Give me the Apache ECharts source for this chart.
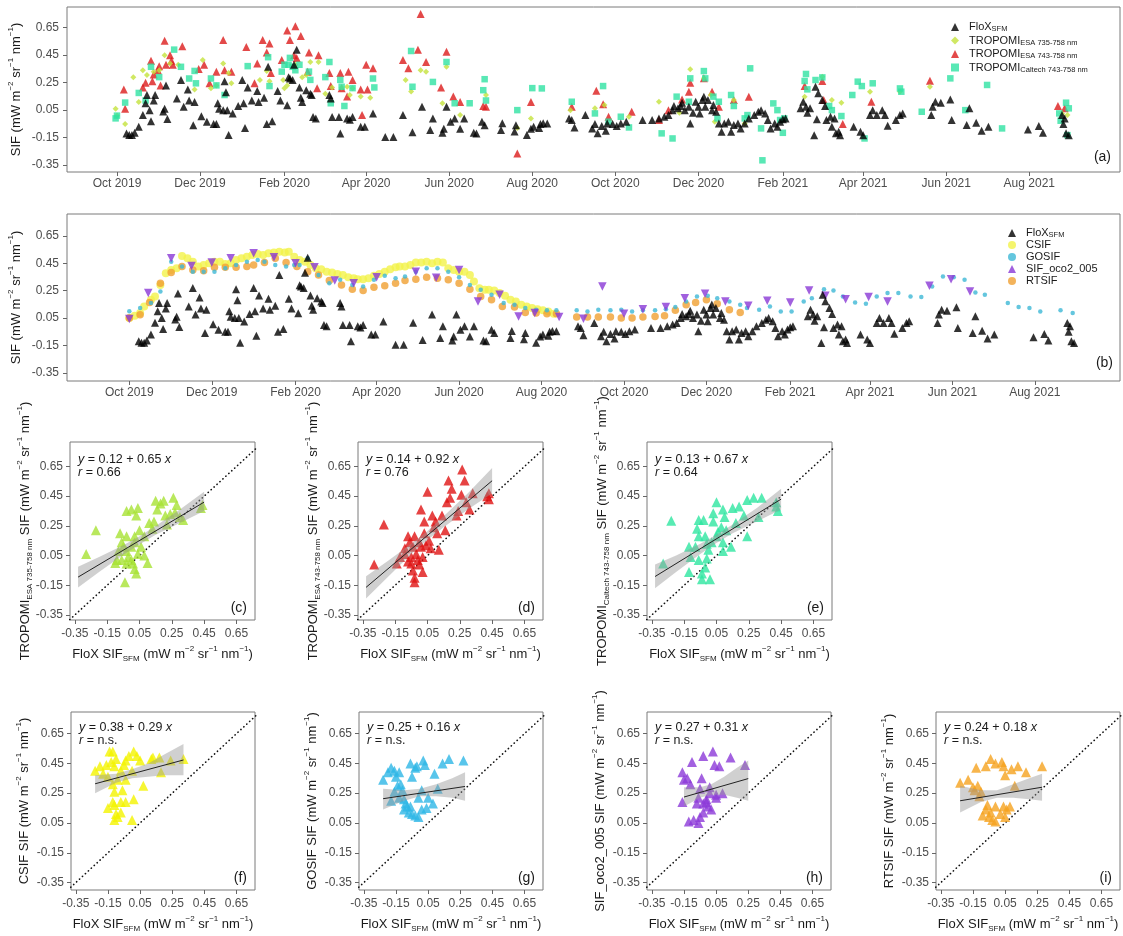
<!DOCTYPE html>
<html><head><meta charset="utf-8">
<script src="https://cdn.jsdelivr.net/npm/echarts@6/dist/echarts.min.js"></script>
<style>html,body{margin:0;padding:0;background:#fff}#c{width:1123px;height:936px}</style>
</head><body><div id="c"></div><script>
const FONT = 'Liberation Sans, Arial, sans-serif';

// ---------- time-series data: [days since 2019-10-01, SIF] ----------
const monthTicks = ['2019-10-01','2019-12-01','2020-02-01','2020-04-01','2020-06-01','2020-08-01',
  '2020-10-01','2020-12-01','2021-02-01','2021-04-01','2021-06-01','2021-08-01'];
const sifTicks = [-0.35, -0.15, 0.05, 0.25, 0.45, 0.65];

const flox = [[7,-0.12],[9,-0.13],[11,-0.13],[13,-0.115],[16,-0.07],[19,0.015],[21,0.10],[22,0.16],[24,0.05],[25,-0.03],[27,0.12],[28,0.16],[34,0.04],[35,0.06],[37,-0.015],[36,0.23],[44,0.135],[47,0.27],[49,0.075],[52,0.20],[53,0.12],[56,-0.06],[57,0.11],[62,0.005],[66,-0.035],[71,-0.05],[73,-0.05],[74,0.10],[75,0.06],[78,0.05],[79,0.26],[80,0.18],[81,0.05],[82,-0.13],[85,0.025],[89,0.08],[92,0.27],[93,0.10],[94,-0.08],[96,0.215],[99,0.12],[103,0.19],[104,0.11],[108,0.14],[110,-0.05],[111,0.365],[114,-0.03],[118,0.19],[120,0.12],[125,0.085],[126,0.29],[127,0.28],[129,0.27],[130,0.38],[132,0.49],[134,0.215],[135,0.14],[136,0.11],[139,0.195],[142,0.17],[143,0.16],[144,0.0],[146,-0.01],[156,0.16],[157,0.135],[158,0.0],[163,0.0],[164,-0.12],[169,-0.01],[171,-0.02],[173,0.0],[179,-0.07],[182,-0.07],[188,0.025],[197,-0.145],[203,-0.145],[210,0.015],[217,-0.11],[224,0.075],[230,-0.095],[232,-0.01],[239,-0.115],[240,-0.085],[242,0.075],[245,-0.035],[248,-0.01],[252,-0.085],[255,-0.01],[262,-0.115],[264,-0.12],[268,-0.035],[270,-0.06],[282,-0.095],[283,-0.045],[292,-0.105],[293,-0.06],[301,-0.13],[304,-0.085],[306,-0.07],[310,-0.08],[311,-0.05],[313,-0.045],
  [316,-0.047],[332,-0.01],[334,-0.022],[336,-0.076],[344,0.014],[349,-0.083],[351,-0.051],[353,-0.119],[356,-0.066],[359,-0.10],[360,-0.047],[364,-0.051],[367,-0.066],[370,-0.047],[374,-0.034],[386,-0.022],[393,-0.022],[398,-0.01],[402,0.002],[405,0.014],[408,0.05],[409,0.08],[412,0.063],[414,0.08],[415,0.104],[417,0.05],[420,0.075],[421,-0.047],[423,0.031],[425,0.111],[427,0.075],[428,0.026],[430,0.123],[431,0.148],[432,0.075],[434,0.123],[437,0.05],[438,0.087],[440,0.038],[442,-0.047],[444,-0.107],[446,-0.047],[449,-0.034],[451,-0.107],[453,-0.059],[456,-0.047],[458,-0.083],[461,-0.047],[464,-0.01],[468,0.014],[471,0.038],[473,0.05],[476,0.026],[478,-0.022],[480,-0.083],[483,-0.047],[485,-0.071],[487,-0.034],[489,-0.017],[491,-0.01],[502,0.063],[504,0.111],[506,0.075],[507,0.031],[509,0.063],[512,-0.132],[514,-0.017],[513,0.22],[515,0.172],[518,0.123],[520,0.08],[521,-0.022],[524,0.002],[525,-0.071],[527,-0.01],[528,-0.119],[530,-0.107],[531,-0.132],[541,-0.071],[546,-0.107],[548,-0.132],[553,0.014],[555,0.05],[558,0.014],[562,0.05],[564,0.014],[566,-0.064],[572,-0.022],[575,0.014],[577,0.026],[598,0.014],[599,0.075],[601,0.111],[605,0.104],[612,0.128],[613,-0.022],[624,-0.059],[626,0.063],[631,-0.042],[635,-0.10],[640,-0.071],[669,-0.09],[677,-0.066],[680,-0.115],[694,0.014],[696,-0.01],[695,-0.051],[697,-0.119],[699,-0.132]];

const tropEsa735 = [[-1,0.06],[0,0.01],[6,-0.05],[12,0.29],[16,0.11],[19,0.34],[22,0.305],[27,0.33],[31,0.34],[35,0.45],[39,0.39],[45,0.38],[57,0.20],[63,0.415],[69,0.21],[73,0.23],[78,0.39],[82,0.32],[84,0.245],[105,0.27],[110,0.335],[112,0.26],[122,0.27],[123,0.21],[125,0.23],[127,0.27],[131,0.38],[136,0.29],[139,0.305],[142,0.40],[148,0.40],[153,0.17],[158,0.215],[165,0.215],[169,0.22],[171,0.16],[173,0.21],[179,0.15],[186,0.14],[212,0.27],[216,0.185],[223,0.34],[227,0.33],[239,0.10],[242,0.365],[252,0.015],[271,0.16],[294,-0.08],[304,-0.01],
  [333,0.05],[351,0.063],[358,0.087],[376,0.002],[398,0.111],[413,0.031],[421,0.347],[431,0.281],[436,0.16],[439,-0.034],[453,0.123],[461,-0.047],[505,0.148],[518,0.293],[525,0.123],[532,0.104],[553,0.184],[575,0.184],[597,0.22],[694,0.026],[698,0.014]];

const tropEsa743 = [[5,0.20],[6,0.06],[19,0.215],[21,0.25],[25,0.41],[26,0.26],[27,0.31],[30,0.34],[31,0.37],[32,0.23],[35,0.555],[36,0.38],[39,0.45],[40,0.41],[41,0.38],[48,0.515],[60,0.35],[64,0.38],[68,0.245],[73,0.33],[78,0.56],[79,0.34],[84,0.33],[95,0.51],[101,0.245],[103,0.39],[107,0.56],[110,0.47],[112,0.535],[113,0.32],[121,0.415],[125,0.63],[131,0.66],[127,0.56],[130,0.45],[132,0.43],[135,0.59],[140,0.33],[141,0.47],[147,0.21],[148,0.45],[156,0.32],[157,0.225],[164,0.32],[165,0.21],[169,0.15],[170,0.33],[173,0.27],[179,0.20],[180,0.015],[183,0.38],[184,0.20],[188,0.355],[210,0.415],[214,0.355],[221,0.49],[223,0.75],[227,0.40],[238,0.215],[242,0.475],[247,0.15],[252,0.11],[269,0.08],[271,0.075],[294,-0.265],[304,0.11],
  [334,0.075],[352,0.191],[357,0.092],[361,0.002],[378,0.038],[398,-0.022],[405,0.05],[415,0.128],[420,0.184],[421,0.25],[431,0.281],[437,0.184],[442,0.075],[453,0.123],[464,0.148],[505,0.225],[518,0.262],[519,0.123],[533,-0.051],[554,0.111],[597,0.264],[691,0.08],[696,0.063]];

const tropCaltech = [[-1,-0.01],[0,0.01],[6,0.105],[16,0.175],[21,0.12],[25,0.365],[31,0.29],[42,0.49],[47,0.365],[53,0.28],[57,0.335],[58,0.245],[69,0.28],[73,0.23],[79,0.16],[96,0.37],[111,0.435],[112,0.225],[121,0.33],[123,0.38],[126,0.38],[127,0.43],[129,0.365],[131,0.34],[134,0.38],[141,0.33],[142,0.27],[156,0.40],[153,0.29],[157,0.10],[164,0.27],[165,0.22],[167,0.08],[173,0.21],[188,0.28],[189,0.215],[216,0.48],[217,0.22],[232,0.255],[242,0.40],[248,0.10],[259,0.10],[269,0.195],[270,0.275],[271,0.12],[294,0.05],[305,0.21],
  [312,0.208],[334,0.111],[351,0.026],[357,0.225],[361,-0.034],[370,0.002],[376,-0.076],[400,-0.119],[408,-0.156],[411,0.148],[420,0.111],[421,0.281],[431,0.334],[432,0.281],[438,0.148],[442,0.111],[441,-0.01],[451,0.16],[453,0.08],[461,-0.01],[463,0.014],[465,0.354],[473,-0.083],[474,-0.315],[482,0.099],[485,0.05],[487,-0.022],[489,-0.115],[490,-0.01],[505,0.262],[506,0.313],[507,0.201],[513,0.269],[518,0.288],[523,0.08],[525,0.05],[532,0.007],[540,0.16],[544,0.257],[547,0.225],[549,-0.156],[555,0.245],[575,0.208],[576,0.184],[591,0.038],[612,0.281],[623,0.05],[639,0.233],[650,-0.083],[692,0.026],[693,-0.027],[697,0.104],[698,-0.132],[699,0.063]];

const csif = [[0,0.05],[4,0.066],[8,0.086],[11,0.135],[16,0.183],[19,0.208],[23,0.292],[27,0.377],[31,0.401],[35,0.414],[39,0.503],[43,0.486],[47,0.462],[51,0.426],[55,0.438],[59,0.45],[63,0.462],[67,0.462],[71,0.445],[75,0.45],[79,0.474],[83,0.486],[87,0.498],[91,0.511],[95,0.518],[99,0.511],[103,0.523],[107,0.528],[111,0.535],[115,0.528],[118,0.535],[122,0.498],[126,0.474],[130,0.462],[134,0.438],[138,0.414],[142,0.406],[146,0.389],[150,0.382],[154,0.372],[158,0.365],[162,0.348],[166,0.341],[169,0.334],[173,0.334],[177,0.341],[181,0.358],[185,0.372],[189,0.389],[193,0.406],[197,0.421],[200,0.426],[204,0.426],[208,0.438],[212,0.455],[216,0.455],[220,0.462],[224,0.45],[228,0.462],[232,0.455],[236,0.414],[240,0.401],[244,0.389],[248,0.389],[252,0.365],[255,0.317],[259,0.268],[263,0.256],[266,0.256],[270,0.251],[274,0.232],[278,0.212],[282,0.183],[286,0.171],[290,0.147],[294,0.135],[298,0.123],[302,0.115],[306,0.106],[310,0.098],[314,0.081]];

const gosif = [[0,0.10],[8,0.123],[16,0.159],[23,0.244],[31,0.462],[39,0.426],[47,0.389],[55,0.389],[63,0.389],[71,0.414],[79,0.438],[87,0.462],[95,0.474],[100,0.462],[108,0.438],[116,0.426],[122,0.438],[126,0.438],[132,0.486],[140,0.365],[148,0.305],[156,0.329],[165,0.292],[173,0.28],[181,0.329],[189,0.358],[197,0.341],[204,0.353],[212,0.389],[220,0.414],[228,0.414],[236,0.389],[244,0.348],[252,0.292],[260,0.256],[268,0.22],[277,0.159],[285,0.147],[293,0.123],[301,0.111],[309,0.106],
  [316,0.106],[331,0.106],[339,0.098],[347,0.111],[356,0.106],[364,0.111],[372,0.098],[380,0.106],[389,0.106],[397,0.115],[404,0.13],[412,0.171],[420,0.208],[428,0.212],[435,0.195],[444,0.171],[452,0.147],[457,0.123],[466,0.111],[474,0.135],[482,0.098],[490,0.098],[499,0.171],[505,0.195],[514,0.261],[521,0.251],[528,0.208],[537,0.164],[545,0.154],[553,0.208],[561,0.232],[569,0.232],[578,0.208],[586,0.203],[594,0.28],[602,0.353],[610,0.348],[618,0.329],[626,0.236],[633,0.22],[650,0.159],[658,0.13],[666,0.123],[674,0.098],[689,0.106],[698,0.086]];

const oco2 = [[0,0.043],[14,0.232],[31,0.486],[46,0.43],[61,0.455],[75,0.486],[92,0.523],[107,0.494],[123,0.45],[137,0.421],[152,0.324],[166,0.305],[183,0.348],[212,0.389],[227,0.345],[244,0.401],[258,0.171],[274,0.22],[288,0.062],[300,0.086],[318,0.057],[336,0.045],[350,0.28],[366,0.081],[380,0.115],[397,0.13],[411,0.195],[426,0.227],[441,0.171],[458,0.139],[472,0.176],[489,0.164],[503,0.251],[515,0.212],[530,0.188],[547,0.203],[561,0.171],[592,0.285],[608,0.333],[622,0.244]];

const rtsif = [[0,0.05],[8,0.074],[15,0.164],[23,0.304],[31,0.382],[39,0.426],[47,0.401],[55,0.396],[63,0.421],[71,0.421],[79,0.421],[87,0.426],[92,0.438],[100,0.455],[108,0.486],[116,0.455],[124,0.426],[132,0.389],[140,0.365],[148,0.324],[157,0.292],[165,0.261],[173,0.251],[181,0.275],[189,0.285],[197,0.304],[204,0.324],[212,0.334],[220,0.348],[228,0.341],[236,0.329],[244,0.304],[252,0.261],[260,0.207],[268,0.183],[276,0.135],[285,0.13],[293,0.091],[301,0.086],[309,0.081],[316,0.081],[331,0.057],[339,0.057],[347,0.057],[356,0.057],[364,0.05],[372,0.05],[380,0.057],[389,0.062],[396,0.067],[404,0.106],[412,0.147],[419,0.164],[427,0.183],[435,0.154],[444,0.11],[452,0.091]];

// ---------- scatter data: [FloX SIF, product SIF] ----------
const scC = [[-0.28,0.06],[-0.22,0.22],[-0.07,0.20],[-0.03,0.35],[0.0,0.36],[0.03,0.32],[0.04,0.37],[-0.06,0.14],[-0.05,0.11],[-0.03,0.18],[-0.02,0.04],[0.0,0.02],[-0.03,-0.003],[0.01,-0.003],[0.02,-0.04],[0.03,-0.07],[-0.04,-0.13],[0.0,0.11],[0.02,0.14],[0.04,0.06],[0.06,0.11],[0.08,0.18],[0.08,0.05],[0.10,0.0],[0.11,0.27],[0.13,0.23],[0.14,0.28],[0.15,0.42],[0.16,0.36],[0.18,0.40],[0.20,0.42],[0.21,0.32],[0.22,0.26],[0.26,0.44],[0.24,0.33],[0.27,0.34],[0.28,0.39],[0.30,0.31],[0.32,0.29],[0.43,0.37],[0.44,0.39],[-0.09,0.02],[-0.10,0.0],[-0.08,0.08],[-0.06,0.02],[0.02,0.18],[0.05,0.22],[-0.03,0.08]];
const scD = [[-0.28,-0.01],[-0.22,0.26],[-0.07,0.18],[-0.09,0.10],[-0.06,0.14],[-0.09,0.06],[-0.05,0.04],[-0.07,0.01],[-0.05,-0.003],[-0.04,-0.05],[-0.03,-0.10],[-0.03,-0.13],[-0.03,0.18],[-0.02,0.06],[-0.01,0.02],[0.0,-0.01],[0.01,0.11],[0.02,0.04],[0.02,-0.06],[0.03,0.28],[0.01,0.36],[0.04,0.12],[0.05,0.48],[0.06,0.15],[0.07,0.10],[0.08,0.32],[0.09,0.24],[0.10,0.28],[0.11,0.20],[0.12,0.09],[0.14,0.32],[0.16,0.22],[0.17,0.41],[0.19,0.44],[0.18,0.555],[0.20,0.50],[0.23,0.32],[0.24,0.35],[0.26,0.46],[0.265,0.63],[0.28,0.555],[0.29,0.41],[0.31,0.36],[0.33,0.47],[0.42,0.45],[0.43,0.43],[0.43,0.47],[0.03,0.20],[-0.04,0.11],[0.0,0.14],[-0.12,0.04],[-0.14,-0.003]];
const scE = [[-0.28,-0.003],[-0.23,0.285],[-0.12,-0.06],[-0.06,0.02],[-0.08,0.11],[-0.06,0.18],[-0.07,0.23],[-0.06,0.29],[-0.03,0.29],[-0.04,-0.11],[0.01,-0.11],[-0.04,-0.07],[-0.02,-0.03],[-0.01,0.03],[0.0,0.09],[0.02,0.14],[0.03,0.28],[0.03,0.335],[0.05,0.41],[0.06,0.21],[0.08,0.24],[0.09,0.36],[0.09,0.14],[0.10,0.31],[0.09,0.08],[0.11,0.22],[0.14,0.11],[0.15,0.37],[0.17,0.27],[0.19,0.38],[0.22,0.32],[0.24,0.18],[0.24,0.425],[0.28,0.44],[0.33,0.44],[0.31,0.31],[0.42,0.38],[0.43,0.35],[0.42,0.41],[-0.12,0.11],[-0.11,0.04],[-0.02,0.18],[0.05,0.18],[-0.01,0.13]];
const scF = [[-0.23,0.40],[-0.20,0.43],[-0.18,0.38],[-0.16,0.44],[-0.14,0.53],[-0.12,0.53],[-0.13,0.46],[-0.11,0.43],[-0.10,0.48],[-0.15,0.36],[-0.12,0.31],[-0.09,0.34],[-0.11,0.26],[-0.12,0.19],[-0.11,0.17],[-0.07,0.19],[-0.04,0.19],[-0.15,0.15],[-0.10,0.11],[-0.09,0.09],[-0.07,0.12],[-0.11,0.07],[0.01,0.21],[0.0,0.07],[-0.02,0.50],[0.01,0.53],[0.03,0.50],[0.05,0.47],[-0.04,0.47],[0.07,0.30],[0.12,0.48],[0.13,0.49],[0.18,0.39],[0.24,0.47],[0.32,0.48],[-0.04,0.34],[-0.05,0.44],[-0.07,0.40],[0.0,0.40],[-0.06,0.27],[0.17,0.49]];
const scG = [[-0.23,0.34],[-0.20,0.39],[-0.18,0.42],[-0.16,0.40],[-0.15,0.36],[-0.13,0.39],[-0.14,0.30],[-0.12,0.31],[-0.16,0.26],[-0.11,0.27],[-0.10,0.21],[-0.09,0.18],[-0.08,0.16],[-0.07,0.12],[-0.05,0.11],[-0.03,0.10],[-0.01,0.09],[0.01,0.14],[-0.06,0.45],[-0.05,0.36],[-0.03,0.42],[0.02,0.47],[0.03,0.44],[-0.01,0.22],[0.01,0.27],[0.05,0.22],[0.08,0.18],[0.09,0.38],[0.11,0.28],[0.14,0.45],[0.18,0.48],[0.27,0.47],[-0.10,0.14],[-0.06,0.16],[0.04,0.15],[-0.13,0.22],[-0.18,0.20],[-0.02,0.43]];
const scH = [[-0.16,0.39],[-0.15,0.34],[-0.16,0.19],[-0.13,0.35],[-0.11,0.31],[-0.10,0.46],[-0.12,0.06],[-0.09,0.07],[-0.06,0.05],[-0.05,0.09],[-0.07,0.18],[-0.06,0.22],[-0.04,0.35],[-0.03,0.50],[-0.05,0.28],[-0.03,0.18],[-0.01,0.21],[0.0,0.16],[0.01,0.25],[0.02,0.14],[0.01,0.29],[0.03,0.53],[0.04,0.44],[0.05,0.22],[0.07,0.43],[0.09,0.25],[0.14,0.49],[0.23,0.44],[-0.03,0.12],[-0.01,0.19],[0.05,0.24]];
const scI = [[-0.23,0.32],[-0.18,0.34],[-0.15,0.29],[-0.13,0.42],[-0.14,0.27],[-0.12,0.30],[-0.11,0.23],[-0.10,0.26],[-0.07,0.43],[-0.04,0.48],[-0.01,0.45],[0.03,0.46],[0.04,0.43],[0.05,0.37],[0.09,0.41],[0.13,0.43],[0.18,0.39],[0.28,0.43],[0.11,0.30],[-0.09,0.10],[-0.07,0.14],[-0.05,0.09],[-0.03,0.07],[-0.01,0.06],[0.02,0.11],[0.04,0.16],[0.06,0.14],[-0.01,0.16],[0.05,0.09],[0.08,0.16],[-0.06,0.17],[-0.04,0.12]];

// fitted lines (end points) and confidence bands [x, lower, upper]
const fitC = [[-0.33,-0.095],[0.45,0.41]];
const fitD = [[-0.33,-0.164],[0.45,0.554]];
const fitE = [[-0.33,-0.091],[0.45,0.43]];
const fitF = [[-0.23,0.313],[0.32,0.473]];
const fitG = [[-0.23,0.213],[0.28,0.295]];
const fitH = [[-0.15,0.224],[0.25,0.348]];
const fitI = [[-0.23,0.199],[0.28,0.29]];
const bandC = [[-0.33,-0.165,-0.025],[-0.2,-0.06,0.04],[-0.05,0.055,0.12],[0.05,0.125,0.18],[0.15,0.19,0.25],[0.3,0.27,0.36],[0.45,0.35,0.48]];
const bandD = [[-0.33,-0.24,-0.09],[-0.2,-0.10,0.01],[-0.05,0.06,0.13],[0.05,0.155,0.215],[0.15,0.24,0.315],[0.3,0.36,0.47],[0.45,0.47,0.64]];
const bandE = [[-0.33,-0.17,-0.01],[-0.2,-0.06,0.05],[-0.05,0.06,0.13],[0.05,0.135,0.19],[0.15,0.20,0.26],[0.3,0.28,0.37],[0.45,0.36,0.50]];
const bandF = [[-0.23,0.25,0.37],[-0.1,0.32,0.38],[0.0,0.35,0.41],[0.1,0.36,0.45],[0.2,0.37,0.51],[0.32,0.37,0.58]];
const bandG = [[-0.23,0.14,0.28],[-0.1,0.20,0.27],[0.0,0.23,0.28],[0.1,0.23,0.31],[0.2,0.22,0.35],[0.28,0.20,0.39]];
const bandH = [[-0.15,0.16,0.29],[-0.05,0.22,0.29],[0.02,0.24,0.31],[0.1,0.24,0.36],[0.18,0.22,0.42],[0.25,0.20,0.47]];
const bandI = [[-0.23,0.12,0.30],[-0.1,0.19,0.27],[0.0,0.22,0.27],[0.1,0.22,0.31],[0.2,0.21,0.35],[0.28,0.20,0.38]];

const eqText = {
  c:['0.12','0.65','0.66'], d:['0.14','0.92','0.76'], e:['0.13','0.67','0.64'],
  f:['0.38','0.29','n.s.'], g:['0.25','0.16','n.s.'], h:['0.27','0.31','n.s.'], i:['0.24','0.18','n.s.']
};

// ---------- layout ----------
const G = {
  a:{left:67,top:7,width:1053,height:165},
  b:{left:67,top:214,width:1053,height:167},
  c:{left:70,top:442,width:185,height:178},
  d:{left:358,top:442,width:185,height:178},
  e:{left:647,top:442,width:185,height:178},
  f:{left:71,top:712,width:184,height:178},
  g:{left:359,top:712,width:184,height:178},
  h:{left:647,top:712,width:184,height:178},
  i:{left:936,top:712,width:184,height:178}
};
const keys = ['a','b','c','d','e','f','g','h','i'];
const T0 = Date.UTC(2019,9,1);
const DAY = 86400000;
const toT = d => T0 + d*DAY;
const tickT = monthTicks.map(s => { const p = s.split('-'); return Date.UTC(+p[0], +p[1]-1, +p[2]); });
const MON = ['Jan','Feb','Mar','Apr','May','Jun','Jul','Aug','Sep','Oct','Nov','Dec'];

const TXT = '#1a1a1a', TICKTXT = '#4d4d4d', FRAME = '#7a7a7a';
const rich = {
  sup:{fontSize:8, lineHeight:8, verticalAlign:'top', fontFamily:FONT, color:TXT},
  sub:{fontSize:8, lineHeight:8, verticalAlign:'bottom', fontFamily:FONT, color:TXT}
};
const UNIT = ' (mW m{sup|\u22122} sr{sup|\u22121} nm{sup|\u22121})';
const nameStyle = {fontSize:13, lineHeight:18, fontFamily:FONT, color:TXT, rich};

const grids = keys.map(k => Object.assign({show:true, borderColor:FRAME, borderWidth:1, containLabel:false, outerBoundsMode:'none'}, G[k]));

function valAxisCommon(){
  return {
    nameMoveOverlap:false,
    axisLine:{show:false, onZero:false}, splitLine:{show:false},
    axisTick:{show:true, inside:false, length:4, lineStyle:{color:'#666'}, customValues:sifTicks},
    axisLabel:{fontSize:12, color:TICKTXT, fontFamily:FONT, customValues:sifTicks, formatter:v=>v.toFixed(2)}
  };
}
function timeX(idx, minD, maxD){
  return {
    type:'value', gridIndex:idx, min:toT(minD), max:toT(maxD), nameMoveOverlap:false,
    axisLine:{show:false, onZero:false}, splitLine:{show:false},
    axisTick:{show:true, length:4, lineStyle:{color:'#666'}, customValues:tickT},
    axisLabel:{fontSize:12, color:TICKTXT, fontFamily:FONT, margin:6, customValues:tickT,
      formatter:v=>{const d=new Date(v); return MON[d.getUTCMonth()]+' '+d.getUTCFullYear();}}
  };
}
const yNames = {
  c:'TROPOMI{sub|ESA 735-758 nm} SIF'+UNIT,
  d:'TROPOMI{sub|ESA 743-758 nm} SIF'+UNIT,
  e:'TROPOMI{sub|Caltech 743-758 nm} SIF'+UNIT,
  f:'CSIF SIF'+UNIT, g:'GOSIF SIF'+UNIT, h:'SIF_oco2_005 SIF'+UNIT, i:'RTSIF SIF'+UNIT
};
const xAxes = [timeX(0,-36.7,736.6), timeX(1,-46.1,733)];
const yAxes = [
  Object.assign(valAxisCommon(), {type:'value', gridIndex:0, min:-0.40, max:0.80, name:'SIF'+UNIT, nameLocation:'middle', nameGap:42, nameTextStyle:nameStyle}),
  Object.assign(valAxisCommon(), {type:'value', gridIndex:1, min:-0.41, max:0.81, name:'SIF'+UNIT, nameLocation:'middle', nameGap:42, nameTextStyle:nameStyle})
];
keys.slice(2).forEach((k, j) => {
  const idx = j + 2;
  const top = idx <= 4;
  const xa = valAxisCommon();
  xa.axisLabel.margin = 8;
  xAxes.push(Object.assign(xa, {type:'value', gridIndex:idx, min:-0.38, max:0.765,
    name:'FloX SIF{sub|SFM}'+UNIT, nameLocation:'middle', nameGap:25, nameTextStyle:nameStyle}));
  const ya = valAxisCommon();
  ya.axisLabel.margin = 7;
  yAxes.push(Object.assign(ya, {type:'value', gridIndex:idx, min: top ? -0.384 : -0.40, max: top ? 0.815 : 0.795,
    name:yNames[k], nameLocation:'middle', nameGap: top ? 36 : 38, nameTextStyle:nameStyle}));
});

const series = [];
function tsSeries(name, data, idx, opts){
  series.push(Object.assign({type:'scatter', name, xAxisIndex:idx, yAxisIndex:idx,
    data:data.map(p=>[toT(p[0]), p[1]]), silent:true}, opts));
}
// panel (a)
tsSeries('E743', tropEsa743, 0, {symbol:'triangle', symbolSize:8, itemStyle:{color:'#dc1c1c'}, z:2});
tsSeries('E735', tropEsa735, 0, {symbol:'diamond', symbolSize:6, itemStyle:{color:'#c4e23c'}, z:3});
tsSeries('Caltech', tropCaltech, 0, {symbol:'rect', symbolSize:6.5, itemStyle:{color:'#2fe2a2'}, z:4});
tsSeries('FloX', flox, 0, {symbol:'triangle', symbolSize:8, itemStyle:{color:'#000'}, z:5});
// panel (b)
tsSeries('CSIF', csif, 1, {symbol:'circle', symbolSize:8, itemStyle:{color:'#f2f34a', opacity:0.8}, z:2});
tsSeries('RTSIF', rtsif, 1, {symbol:'circle', symbolSize:7.5, itemStyle:{color:'#f0a032'}, z:3});
tsSeries('GOSIF', gosif, 1, {symbol:'circle', symbolSize:4.5, itemStyle:{color:'#3db8d6'}, z:4});
tsSeries('SIF_oco2_005', oco2, 1, {symbol:'triangle', symbolRotate:180, symbolSize:8.5, itemStyle:{color:'#8a38d6'}, z:5});
tsSeries('FloX', flox, 1, {symbol:'triangle', symbolSize:8, itemStyle:{color:'#000'}, z:6});

const scatterSets = {
  c:[scC, fitC, bandC, '#a8e234'], d:[scD, fitD, bandD, '#e01414'], e:[scE, fitE, bandE, '#2ee6a0'],
  f:[scF, fitF, bandF, '#f4f400'], g:[scG, fitG, bandG, '#2eb6e6'], h:[scH, fitH, bandH, '#8c3ad8'], i:[scI, fitI, bandI, '#f5a21f']
};
keys.slice(2).forEach((k, j) => {
  const idx = j + 2;
  const [pts, fit, band, col] = scatterSets[k];
  series.push({type:'line', name:'one2one_'+k, xAxisIndex:idx, yAxisIndex:idx, data:[[-0.4,-0.4],[0.9,0.9]],
    symbol:'none', silent:true, clip:true, z:1, lineStyle:{color:'#111', width:1.6, type:[0.2,3.8], cap:'round'}});
  series.push({type:'scatter', name:'pts_'+k, xAxisIndex:idx, yAxisIndex:idx, data:pts, symbol:'triangle',
    symbolSize:10, silent:true, z:2, itemStyle:{color:col}});
  series.push({type:'custom', name:'band_'+k, xAxisIndex:idx, yAxisIndex:idx, silent:true, z:3,
    data:band, encode:{x:0, y:[1,2]},
    renderItem:(params, api) => {
      if (params.dataIndex !== 0) return null;
      const up = band.map(b => api.coord([b[0], b[2]]));
      const lo = band.map(b => api.coord([b[0], b[1]])).reverse();
      return {type:'polygon', shape:{points:up.concat(lo)}, style:{fill:'rgba(150,150,150,0.45)'}};
    }});
  series.push({type:'line', name:'fit_'+k, xAxisIndex:idx, yAxisIndex:idx, data:fit, symbol:'none', silent:true, z:4,
    lineStyle:{color:'#222', width:1}});
});

// ---------- legends ----------
const legendLabels = {FloX:'FloX{sub|SFM}', E735:'TROPOMI{sub|ESA 735-758 nm}', E743:'TROPOMI{sub|ESA 743-758 nm}',
  Caltech:'TROPOMI{sub|Caltech 743-758 nm}', CSIF:'CSIF', GOSIF:'GOSIF', SIF_oco2_005:'SIF_oco2_005', RTSIF:'RTSIF'};
const legRich = {sub:{fontSize:7.5, lineHeight:7, verticalAlign:'bottom', fontFamily:FONT, color:TXT}};
const legends = [
  {orient:'vertical', left:946, top:16, itemWidth:8, itemHeight:8, itemGap:1.5, selectedMode:false,
   data:['FloX','E735','E743','Caltech'], formatter:n=>legendLabels[n],
   textStyle:{fontSize:11, lineHeight:12, fontFamily:FONT, color:TXT, rich:legRich, padding:[0,0,0,5]}},
  {orient:'vertical', left:1003, top:222, itemWidth:8, itemHeight:8, itemGap:0, selectedMode:false,
   data:['FloX','CSIF','GOSIF','SIF_oco2_005','RTSIF'], formatter:n=>legendLabels[n],
   textStyle:{fontSize:11, lineHeight:12, fontFamily:FONT, color:TXT, rich:legRich, padding:[0,0,0,5]}}
];

// ---------- annotation texts ----------
const graphic = [];
const iRich = {i:{fontStyle:'italic', fontSize:12.5, fontFamily:FONT, fill:TXT, color:TXT}};
keys.slice(2).forEach((k, j) => {
  const g = G[k];
  const top = j < 3;
  const e = eqText[k];
  const y1 = g.top + (top ? 18 : 16);
  graphic.push({type:'text', x:g.left+8, y:y1, silent:true, style:{text:'{i|y} = '+e[0]+' + '+e[1]+' {i|x}', rich:iRich,
    fontSize:12.5, fontFamily:FONT, fill:TXT, verticalAlign:'middle', align:'left'}});
  graphic.push({type:'text', x:g.left+8, y:y1+13, silent:true, style:{text:'{i|r} = '+e[2], rich:iRich,
    fontSize:12.5, fontFamily:FONT, fill:TXT, verticalAlign:'middle', align:'left'}});
  graphic.push({type:'text', x:g.left+g.width-8, y:g.top+g.height-12, silent:true, style:{text:'('+k+')',
    fontSize:14, fontFamily:FONT, fill:TXT, verticalAlign:'middle', align:'right'}});
});
graphic.push({type:'text', x:G.a.left+G.a.width-9, y:G.a.top+G.a.height-15, silent:true,
  style:{text:'(a)', fontSize:14, fontFamily:FONT, fill:TXT, verticalAlign:'middle', align:'right'}});
graphic.push({type:'text', x:G.b.left+G.b.width-7, y:G.b.top+G.b.height-18, silent:true,
  style:{text:'(b)', fontSize:14, fontFamily:FONT, fill:TXT, verticalAlign:'middle', align:'right'}});

const chart = echarts.init(document.getElementById('c'), null, {renderer:'canvas'});
chart.setOption({
  backgroundColor:'#fff', animation:false,
  textStyle:{fontFamily:FONT},
  grid:grids, xAxis:xAxes, yAxis:yAxes, series, legend:legends, graphic
});
</script></body></html>
